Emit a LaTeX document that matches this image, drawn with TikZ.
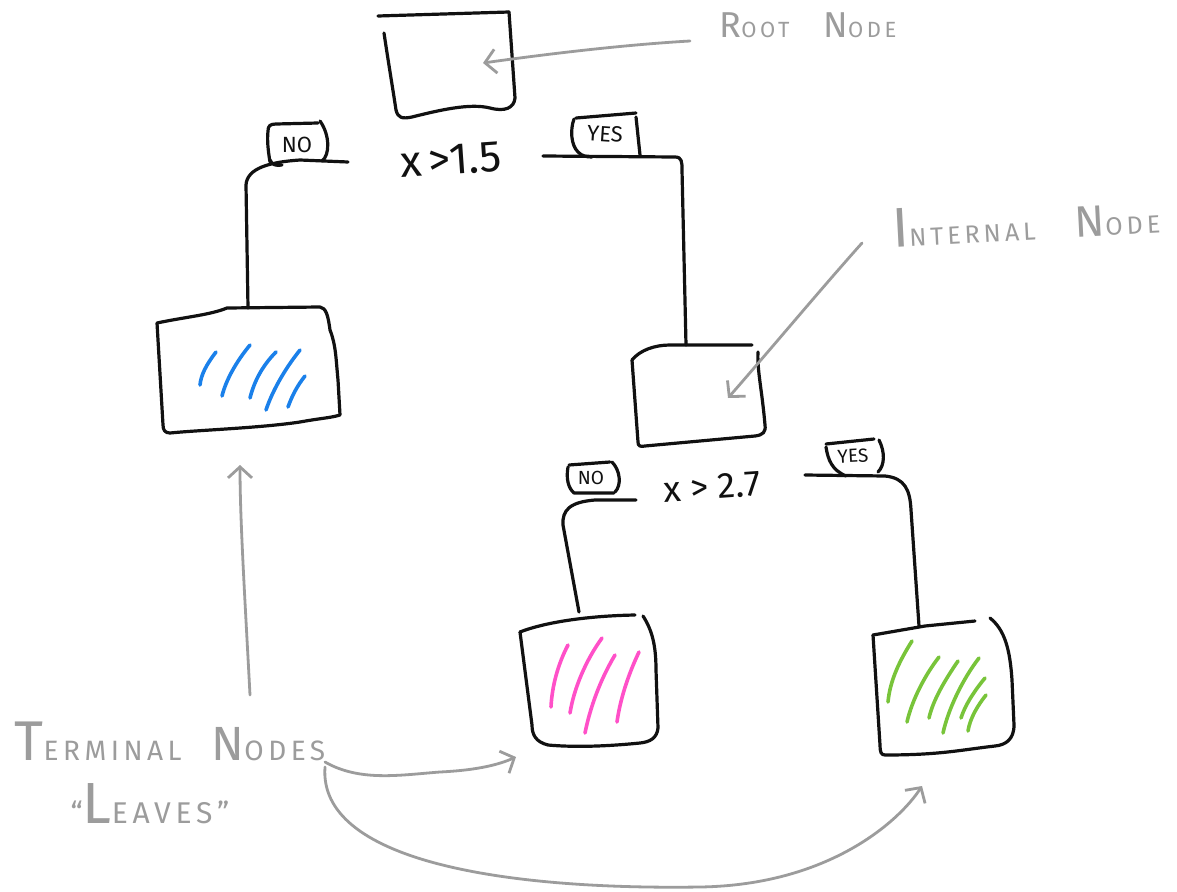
\documentclass[tikz,border=0pt]{standalone}
\usepackage{fontspec}
\setmainfont{Fira Sans}
\newfontfamily\annotfont[LetterSpace=16]{Fira Sans}
\usetikzlibrary{arrows.meta}
\definecolor{ink}{HTML}{111111}
\definecolor{pen}{HTML}{9C9C9C}
\definecolor{blueink}{HTML}{1A80EA}
\definecolor{pinkink}{HTML}{FF50C8}
\definecolor{greenink}{HTML}{78C43A}
\newcommand\SCap[4]{{\fontsize{#1}{#1}\selectfont #3}{\fontsize{#2}{#2}\selectfont #4}}
\begin{document}
\begin{tikzpicture}[x=1pt,y=-1pt,
  sketch/.style={draw=ink,line width=3.2pt,line cap=round,line join=round},
  note/.style={draw=pen,line width=2.8pt,line cap=round,line join=round,
    -{Straight Barb[length=11pt,width=24pt,line width=2.8pt]}},
  hatchB/.style={draw=blueink,line width=3.6pt,line cap=round},
  hatchP/.style={draw=pinkink,line width=3.6pt,line cap=round},
  hatchG/.style={draw=greenink,line width=3.6pt,line cap=round},
  cond/.style={text=ink,font=\fontsize{44}{44}\selectfont,inner sep=0pt},
  tagtext/.style={text=ink,font=\fontsize{22}{22}\selectfont,inner sep=0pt},
  label/.style={text=pen,font=\annotfont,inner sep=0pt}]
\useasboundingbox (0,0) rectangle (1177,891);
\fill[white] (0,0) rectangle (1177,891);

% ---------- named points ----------
\coordinate (rootIn) at (483,63);
\coordinate (c1L) at (348,162);
\coordinate (c1R) at (543,156);
\coordinate (leafAtop) at (248,308);
\coordinate (intTop) at (686,345);
\coordinate (intIn) at (728,398);
\coordinate (c2L) at (636,500);
\coordinate (c2R) at (805,475);
\coordinate (leafBtop) at (579,612);
\coordinate (leafCtop) at (919,626);
\coordinate (leafAbot) at (240,465);
\coordinate (leafBside) at (516,757);
\coordinate (leafCbot) at (922,786);

% ---------- root node ----------
\draw[sketch] (378,16) -- (509,12);
\draw[sketch] (384,33) .. controls (388,60) and (393,90) .. (396,110)
  .. controls (398,118) and (402,119) .. (412,117)
  .. controls (440,110) and (470,103) .. (490,108)
  .. controls (505,112) and (514,108) .. (515,98) -- (509,12);

% ---------- first split ----------
\node[cond,rotate=4] (split1) at (451,160) {x\,>1.5};
\draw[sketch] (c1L) -- (300,160) .. controls (270,162) and (247,168) .. (246,185) -- (leafAtop);
\draw[sketch] (c1R) -- (675,157) .. controls (682,157) and (682,162) .. (682,170) -- (intTop);

% NO tag
\draw[sketch] (270,162) .. controls (268,150) and (267,140) .. (268,131)
  .. controls (268,126) and (270,124) .. (276,124) -- (318,123);
\draw[sketch] (320,121) .. controls (330,135) and (330,155) .. (322,161);
\draw[sketch] (270,160) .. controls (272,165) and (276,166) .. (282,165);
\node[tagtext] (no1) at (297,145) {NO};
% YES tag
\draw[sketch] (574,119) .. controls (570,130) and (571,145) .. (578,152)
  .. controls (582,156) and (586,157) .. (592,157);
\draw[sketch] (576,118) -- (636,113);
\draw[sketch] (636,117) -- (640,155);
\node[tagtext,rotate=-4] (yes1) at (605,134) {YES};

% ---------- leaf A (blue) ----------
\draw[sketch] (157,323) .. controls (185,317) and (210,315) .. (227,308) -- (320,307)
  .. controls (326,308) and (328,315) .. (330,330)
  .. controls (336,345) and (336,360) .. (338,380) -- (340,415)
  .. controls (330,418) and (322,418) .. (300,422)
  .. controls (260,428) and (200,430) .. (170,433)
  .. controls (165,433) and (163,430) .. (163,425) -- (157,323);
\draw[hatchB] (216,352) .. controls (206,365) and (201,375) .. (200,385);
\draw[hatchB] (250,345) .. controls (236,362) and (226,380) .. (222,396);
\draw[hatchB] (276,352) .. controls (262,366) and (254,382) .. (250,398);
\draw[hatchB] (300,350) .. controls (284,370) and (272,392) .. (266,410);
\draw[hatchB] (305,376) .. controls (297,386) and (292,396) .. (288,407);

% ---------- internal node ----------
\draw[sketch] (632,360) .. controls (640,350) and (655,345) .. (670,345) -- (752,345);
\draw[sketch] (758,352) .. controls (757,370) and (762,390) .. (765,425)
  .. controls (766,432) and (763,435) .. (755,436) -- (645,446)
  .. controls (640,447) and (638,446) .. (638,442) -- (632,360);

% ---------- second split ----------
\node[cond,rotate=4,font=\fontsize{36}{36}\selectfont] (split2) at (712,487) {x > 2.7};
\draw[sketch] (c2L) -- (595,500) .. controls (570,502) and (562,510) .. (563,525) -- (leafBtop);
\draw[sketch] (c2R) -- (885,476) .. controls (905,478) and (910,490) .. (911,510) -- (leafCtop);

% NO tag 2
\draw[sketch] (568,467) .. controls (566,478) and (568,488) .. (574,493) -- (614,493);
\draw[sketch] (569,465) -- (610,462);
\draw[sketch] (612,462) .. controls (620,470) and (622,485) .. (615,492);
\node[tagtext,font=\fontsize{19}{19}\selectfont] (no2) at (591,478) {NO};
% YES tag 2
\draw[sketch] (826,447) .. controls (828,460) and (832,470) .. (846,476);
\draw[sketch] (826,444) -- (874,439);
\draw[sketch] (879,440) .. controls (885,452) and (885,465) .. (878,472);
\node[tagtext,font=\fontsize{19}{19}\selectfont,rotate=3] (yes2) at (853,456) {YES};

% ---------- leaf B (pink) ----------
\draw[sketch] (520,632) .. controls (540,624) and (580,616) .. (635,615);
\draw[sketch] (643,616) .. controls (652,630) and (656,645) .. (656,670) -- (658,728)
  .. controls (657,738) and (650,742) .. (640,743)
  .. controls (600,747) and (570,747) .. (548,745)
  .. controls (536,742) and (532,735) .. (532,725) -- (520,632);
\draw[hatchP] (568,645) .. controls (558,664) and (552,686) .. (551,707);
\draw[hatchP] (602,638) .. controls (586,660) and (574,688) .. (570,713);
\draw[hatchP] (615,655) .. controls (600,680) and (590,708) .. (585,733);
\draw[hatchP] (639,652) .. controls (628,675) and (620,700) .. (617,722);

% ---------- leaf C (green) ----------
\draw[sketch] (873,635) -- (925,626) -- (975,621);
\draw[sketch] (990,618) .. controls (1005,630) and (1010,650) .. (1012,680) -- (1014,725)
  .. controls (1014,740) and (1005,745) .. (995,746)
  .. controls (960,750) and (940,755) .. (885,755)
  .. controls (881,755) and (880,752) .. (880,745) -- (873,635);
\draw[hatchG] (912,641) .. controls (900,660) and (890,680) .. (888,702);
\draw[hatchG] (939,657) .. controls (925,675) and (912,700) .. (907,722);
\draw[hatchG] (958,661) .. controls (945,680) and (933,700) .. (929,718);
\draw[hatchG] (979,658) .. controls (962,680) and (948,710) .. (943,733);
\draw[hatchG] (985,678) .. controls (975,690) and (965,705) .. (961,718);
\draw[hatchG] (986,695) .. controls (978,705) and (970,718) .. (968,731);

% ---------- annotations ----------
\node[label] (rootLbl) at (808,25) {\SCap{36}{22}{R}{OOT}\hspace{34pt}\SCap{36}{22}{N}{ODE}};
\coordinate (rootLblW) at (690,41);
\draw[note] (rootLblW) .. controls (620,45) and (540,55) .. (rootIn);

\node[label,rotate=3] (intLbl) at (1026,221) {\SCap{56}{25}{I}{NTERNAL}\hspace{40pt}\SCap{44}{25}{N}{ODE}};
\coordinate (intLblW) at (862,243);
\draw[note] (intLblW) .. controls (820,290) and (770,350) .. (intIn);

\node[label] (termLbl) at (170,741) {\SCap{56}{28}{T}{ERMINAL}\hspace{30pt}\SCap{48}{28}{N}{ODES}};
\node[label] (leavesLbl) at (150,804) {\SCap{30}{30}{}{“}\SCap{58}{30}{L}{EAVES}\SCap{30}{30}{}{”}};
\coordinate (termUp) at (250,695);
\coordinate (termR) at (325,762);
\coordinate (termD) at (325,767);
\draw[note] (termUp) .. controls (245,600) and (240,520) .. (leafAbot);
\draw[note] (termR) .. controls (360,782) and (400,775) .. (440,772)
  .. controls (480,770) and (500,764) .. (leafBside);
\draw[note] (termD) .. controls (318,860) and (500,890) .. (700,887)
  .. controls (830,885) and (900,820) .. (leafCbot);
\end{tikzpicture}
\end{document}
